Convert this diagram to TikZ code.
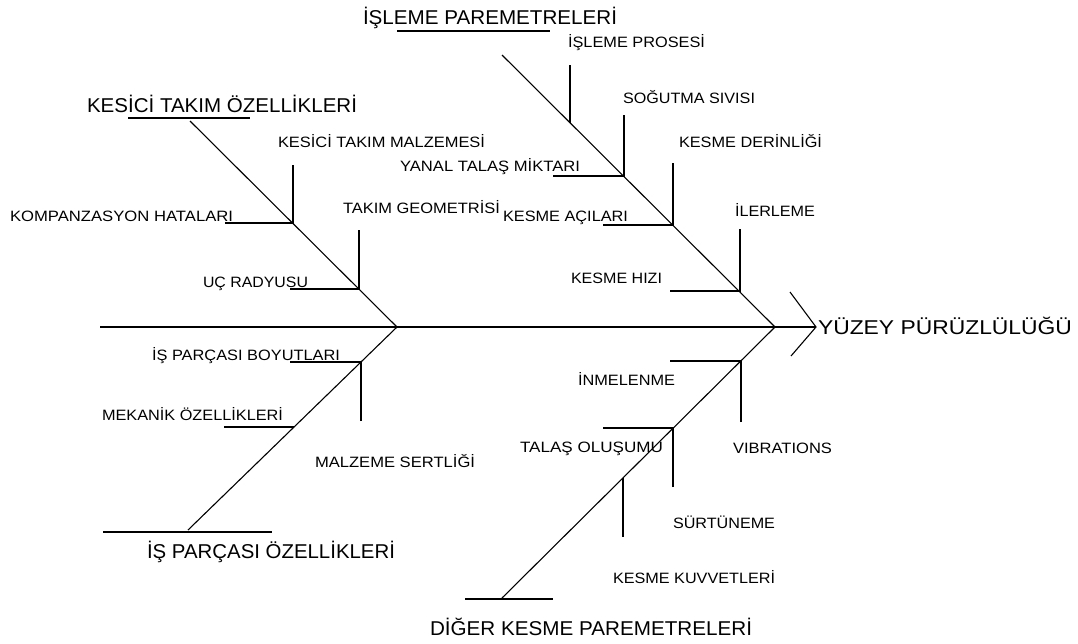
\documentclass[tikz,border=0pt]{standalone}
\usepackage{fontspec}
\setmainfont{Liberation Sans}
\usepackage{graphicx}
\newcommand\fw[2]{\resizebox{#1pt}{\height}{#2}}
\tikzset{
  lbl/.style={inner sep=0pt, outer sep=0pt, anchor=base west, font=\fontsize{15}{15}\selectfont},
  ttl/.style={lbl, font=\fontsize{20}{20}\selectfont},
  bone/.style={line width=1.1pt},
  spine/.style={line width=1.6pt},
}
\begin{document}
\begin{tikzpicture}[x=1pt,y=-1pt]
\useasboundingbox (0,0) rectangle (1078,643);
\fill[white] (0,0) rectangle (1078,643);

% spine
\coordinate (sL) at (100,327);
\coordinate (j1) at (397,327);
\coordinate (j2) at (775,327);
\coordinate (head) at (816,327);
\coordinate (ah1) at (790,292);
\coordinate (ah2) at (791,356);
\draw[spine] (sL) -- (head);
\draw[bone] (ah1) -- (head) -- (ah2);

% KESICI branch
\coordinate (kTop) at (190,121);
\coordinate (ku1) at (128,118);
\coordinate (ku2) at (250,118);
\draw[bone] (kTop) -- (j1);
\draw[bone] (ku1) -- (ku2);
\coordinate (k1) at (293,223);
\coordinate (k1v) at (293,165);
\coordinate (k1h) at (225,223);
\draw[bone] (k1v) -- (k1) -- (k1h);
\coordinate (k2) at (359,289);
\coordinate (k2v) at (359,230);
\coordinate (k2h) at (290,289);
\draw[bone] (k2v) -- (k2) -- (k2h);

% ISLEME branch
\coordinate (iTop) at (502,55);
\coordinate (iu1) at (397,31);
\coordinate (iu2) at (550,31);
\draw[bone] (iTop) -- (j2);
\draw[bone] (iu1) -- (iu2);
\coordinate (i1) at (570,123);
\coordinate (i1v) at (570,65);
\draw[bone] (i1v) -- (i1);
\coordinate (i2) at (624,176);
\coordinate (i2v) at (624,115);
\coordinate (i2h) at (553,176);
\draw[bone] (i2v) -- (i2) -- (i2h);
\coordinate (i3) at (673,225);
\coordinate (i3v) at (673,163);
\coordinate (i3h) at (603,225);
\draw[bone] (i3v) -- (i3) -- (i3h);
\coordinate (i4) at (740,291);
\coordinate (i4v) at (740,229);
\coordinate (i4h) at (670,291);
\draw[bone] (i4v) -- (i4) -- (i4h);

% IS PARCASI branch
\coordinate (pBot) at (188,530);
\coordinate (pu1) at (103,532);
\coordinate (pu2) at (272,532);
\draw[bone] (j1) -- (pBot);
\draw[bone] (pu1) -- (pu2);
\coordinate (p1) at (361,362);
\coordinate (p1v) at (361,421);
\coordinate (p1h) at (290,362);
\draw[bone] (p1v) -- (p1) -- (p1h);
\coordinate (p2) at (294,427);
\coordinate (p2h) at (224,427);
\draw[bone] (p2) -- (p2h);

% DIGER branch
\coordinate (dBot) at (502,598);
\coordinate (du1) at (465,599);
\coordinate (du2) at (553,599);
\draw[bone] (j2) -- (dBot);
\draw[bone] (du1) -- (du2);
\coordinate (d1) at (741,361);
\coordinate (d1v) at (741,422);
\coordinate (d1h) at (670,361);
\draw[bone] (d1v) -- (d1) -- (d1h);
\coordinate (d2) at (673,428);
\coordinate (d2v) at (673,487);
\coordinate (d2h) at (603,428);
\draw[bone] (d2v) -- (d2) -- (d2h);
\coordinate (d3) at (623,478);
\coordinate (d3v) at (623,537);
\draw[bone] (d3) -- (d3v);

% titles
\node[ttl] (tK) at (87,112) {\fw{270}{KESİCİ TAKIM ÖZELLİKLERİ}};
\node[ttl] (tI) at (363,24) {\fw{254}{İŞLEME PAREMETRELERİ}};
\node[ttl] (tP) at (147,558) {\fw{248}{İŞ PARÇASI ÖZELLİKLERİ}};
\node[ttl] (tD) at (430,635) {\fw{322}{DİĞER KESME PAREMETRELERİ}};
\node[ttl] (tY) at (818,334) {\fw{254}{YÜZEY PÜRÜZLÜLÜĞÜ}};

% small labels
\node[lbl] (l1) at (278,147) {\fw{207}{KESİCİ TAKIM MALZEMESİ}};
\node[lbl] (l2) at (10,221) {\fw{223}{KOMPANZASYON HATALARI}};
\node[lbl] (l3) at (343,213) {\fw{157}{TAKIM GEOMETRİSİ}};
\node[lbl] (l4) at (203,287) {\fw{105}{UÇ RADYUSU}};
\node[lbl] (l5) at (568,47) {\fw{137}{İŞLEME PROSESİ}};
\node[lbl] (l6) at (623,103) {\fw{132}{SOĞUTMA SIVISI}};
\node[lbl] (l7) at (679,147) {\fw{143}{KESME DERİNLİĞİ}};
\node[lbl] (l8) at (400,171) {\fw{180}{YANAL TALAŞ MİKTARI}};
\node[lbl] (l9) at (503,221) {\fw{125}{KESME AÇILARI}};
\node[lbl] (l10) at (735,216) {\fw{80}{İLERLEME}};
\node[lbl] (l11) at (571,283) {\fw{91}{KESME HIZI}};
\node[lbl] (l12) at (152,360) {\fw{188}{İŞ PARÇASI BOYUTLARI}};
\node[lbl] (l13) at (102,420) {\fw{181}{MEKANİK ÖZELLİKLERİ}};
\node[lbl] (l14) at (315,467) {\fw{160}{MALZEME SERTLİĞİ}};
\node[lbl] (l15) at (578,385) {\fw{97}{İNMELENME}};
\node[lbl] (l16) at (520,452) {\fw{143}{TALAŞ OLUŞUMU}};
\node[lbl] (l17) at (733,453) {\fw{99}{VIBRATIONS}};
\node[lbl] (l18) at (673,528) {\fw{102}{SÜRTÜNEME}};
\node[lbl] (l19) at (613,583) {\fw{162}{KESME KUVVETLERİ}};
\end{tikzpicture}
\end{document}
